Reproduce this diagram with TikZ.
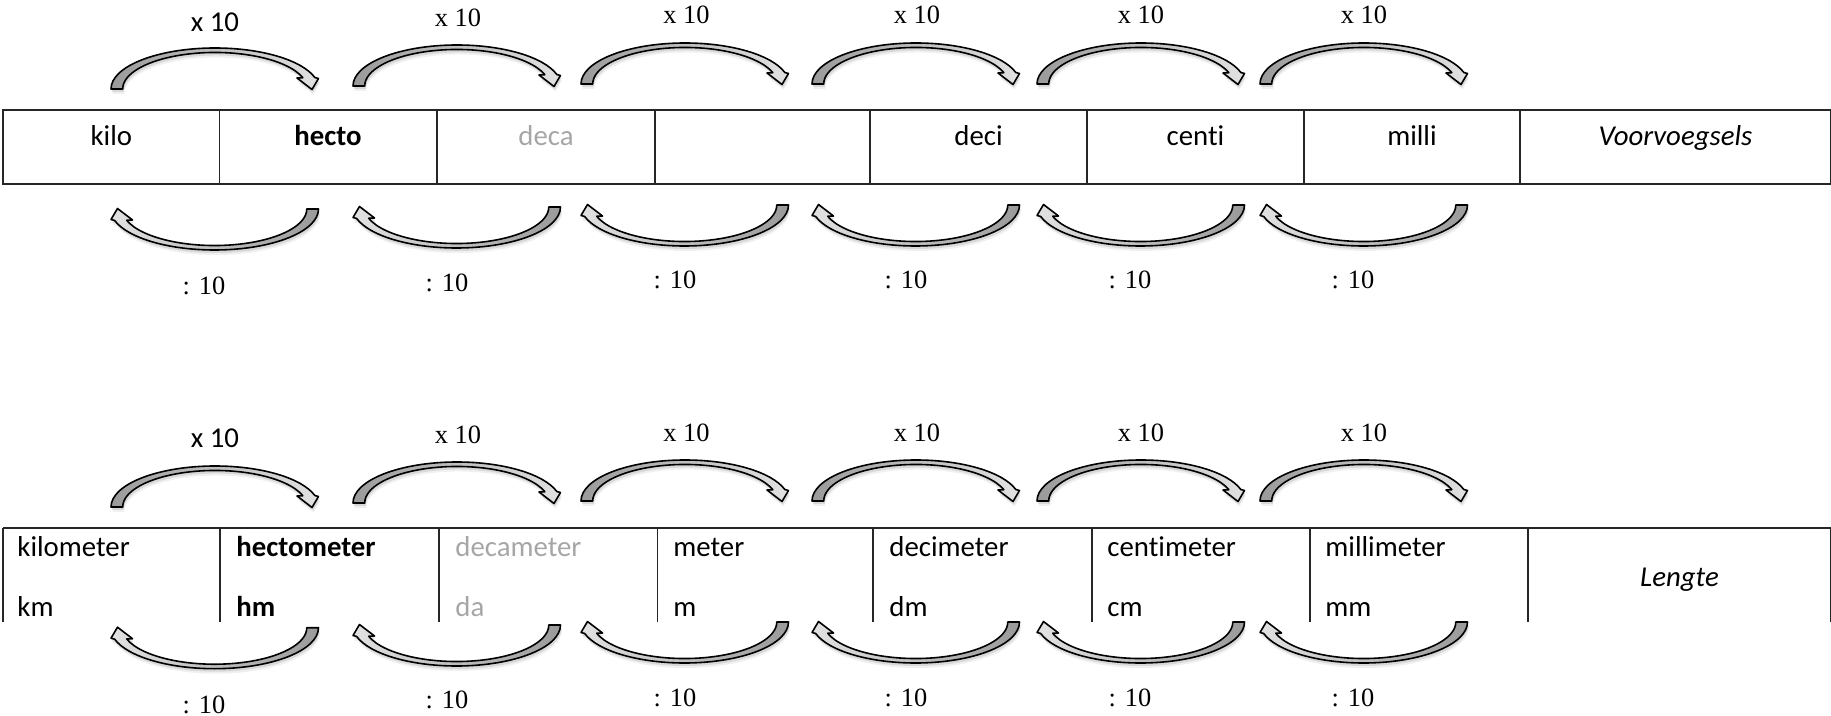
\documentclass[tikz,border=0pt]{standalone}
\usepackage{fontspec}
\newfontfamily\calfont[Ligatures={NoCommon}]{Carlito}
\newfontfamily\tnrfont{Liberation Serif}
\definecolor{greytext}{HTML}{A6A6A6}
\definecolor{arrdark}{HTML}{9A9A9A}
\definecolor{arrlight}{HTML}{E2E2E2}
\newcommand\xarrpath[1]{\path[#1] (0,0) arc[start angle=180,end angle=343.7,x radius=104,y radius=41]
  -- (207.5,-10.5) -- (201,0.5) -- (186,-11) -- (191.8,-11.3)
  arc[start angle=342,end angle=180,x radius=92.3,y radius=36.5] -- cycle;}
\newcommand\darrpath[1]{\path[#1] (0,0) arc[start angle=0,end angle=163.7,x radius=104,y radius=41]
  -- (-207.5,10.5) -- (-201,-0.5) -- (-186,11) -- (-191.8,11.3)
  arc[start angle=162,end angle=0,x radius=92.3,y radius=36.5] -- cycle;}
\tikzset{
  tline/.style={line width=0.6pt, draw=black!85},
  cal/.style={font=\calfont\fontsize{14.4}{17}\selectfont, anchor=base, inner sep=0pt},
  calleft/.style={cal, anchor=base west},
  tnr/.style={font=\tnrfont\fontsize{13.2}{16}\selectfont, anchor=base, inner sep=0pt},
  greyed/.style={text=greytext},
  arrline/.style={draw=black, line width=0.8pt, line join=round},
  xarr/.pic={
    \xarrpath{fill=black, opacity=0.10, shift={(1,3)}}
    \xarrpath{fill=black, opacity=0.06, shift={(1.5,5)}}
    \xarrpath{arrline, left color=arrdark, right color=arrlight}
  },
  darr/.pic={
    \darrpath{fill=black, opacity=0.10, shift={(1,3)}}
    \darrpath{fill=black, opacity=0.06, shift={(1.5,5)}}
    \darrpath{arrline, left color=arrlight, right color=arrdark}
  },
}
\begin{document}
\begin{tikzpicture}[x=0.5pt, y=-0.5pt]
\useasboundingbox (0,0) rectangle (1831,716);

% ---------- top table ----------
\draw[tline] (3,110) rectangle (1830.5,184);
\foreach \x in {219.5,437,655,870,1087,1304,1520} \draw[tline] (\x,110) -- (\x,184);
\node[cal] (kilo) at (111.3,146) {kilo};
\node[cal, font=\calfont\bfseries\fontsize{14.4}{17}\selectfont] (hecto) at (328,146) {hecto};
\node[cal, greyed] (deca) at (546,146) {deca};
\node[cal] (deci) at (978.5,146) {deci};
\node[cal] (centi) at (1195.5,146) {centi};
\node[cal] (milli) at (1412,146) {milli};
\node[cal, font=\calfont\itshape\fontsize{14.4}{17}\selectfont] (voor) at (1675.5,146) {Voorvoegsels};

% ---------- lower table ----------
\draw[tline] (3,528) -- (1830.5,528);
\foreach \x in {3,220,439,657.5,873,1092,1310,1528,1830.5} \draw[tline] (\x,528) -- (\x,621.7);
\node[calleft] (kmname) at (17,556.5) {kilometer};
\node[calleft] (kmsym) at (17,616) {km};
\node[calleft, font=\calfont\bfseries\fontsize{14.4}{17}\selectfont] (hmname) at (236,556.5) {hectometer};
\node[calleft, font=\calfont\bfseries\fontsize{14.4}{17}\selectfont] (hmsym) at (236,616) {hm};
\node[calleft, greyed] (damname) at (455,556.5) {decameter};
\node[calleft, greyed] (damsym) at (455,616) {da};
\node[calleft] (mname) at (673,556.5) {meter};
\node[calleft] (msym) at (673,616) {m};
\node[calleft] (dmname) at (889,556.5) {decimeter};
\node[calleft] (dmsym) at (889,616) {dm};
\node[calleft] (cmname) at (1107,556.5) {centimeter};
\node[calleft] (cmsym) at (1107,616) {cm};
\node[calleft] (mmname) at (1325,556.5) {millimeter};
\node[calleft] (mmsym) at (1325,616) {mm};
\node[cal, font=\calfont\itshape\fontsize{14.4}{17}\selectfont] (lengte) at (1679.5,586) {Lengte};

% ---------- arrows, top block ----------
\foreach \x/\y in {111/89,353/86,581/84,812/84,1037/84,1260/84} \pic at (\x,\y) {xarr};
\foreach \x/\y in {318.5/209,560.5/207,788.5/205,1019.5/205,1244.5/205,1467.5/205} \pic at (\x,\y) {darr};
% ---------- arrows, lower block ----------
\foreach \x/\y in {111/507,353/503,581/501,812/501,1037/501,1260/501} \pic at (\x,\y) {xarr};
\foreach \x/\y in {318.5/627.7,560.5/625,788.5/622,1019.5/622,1244.5/622,1467.5/622} \pic at (\x,\y) {darr};

% ---------- labels ----------
\node[cal] (ta1) at (215,31.5) {x 10};
\foreach \x/\y [count=\i from 2] in {458/26.5,686.5/23.5,917/23.5,1141/23.5,1364/23.5}
  \node[tnr] (ta\i) at (\x,\y) {x 10};
\foreach \x/\y [count=\i] in {204/295,447/291.5,675/288.5,906/288.5,1130/288.5,1353/288.5}
  \node[tnr] (tb\i) at (\x,\y) {: 10};
\node[cal] (la1) at (215,448) {x 10};
\foreach \x/\y [count=\i from 2] in {458/443.5,686.5/441.5,917/441.5,1141/441.5,1364/441.5}
  \node[tnr] (la\i) at (\x,\y) {x 10};
\foreach \x/\y [count=\i] in {204/713,447/708.5,675/706.5,906/706.5,1130/706.5,1353/706.5}
  \node[tnr] (lb\i) at (\x,\y) {: 10};
\end{tikzpicture}
\end{document}
